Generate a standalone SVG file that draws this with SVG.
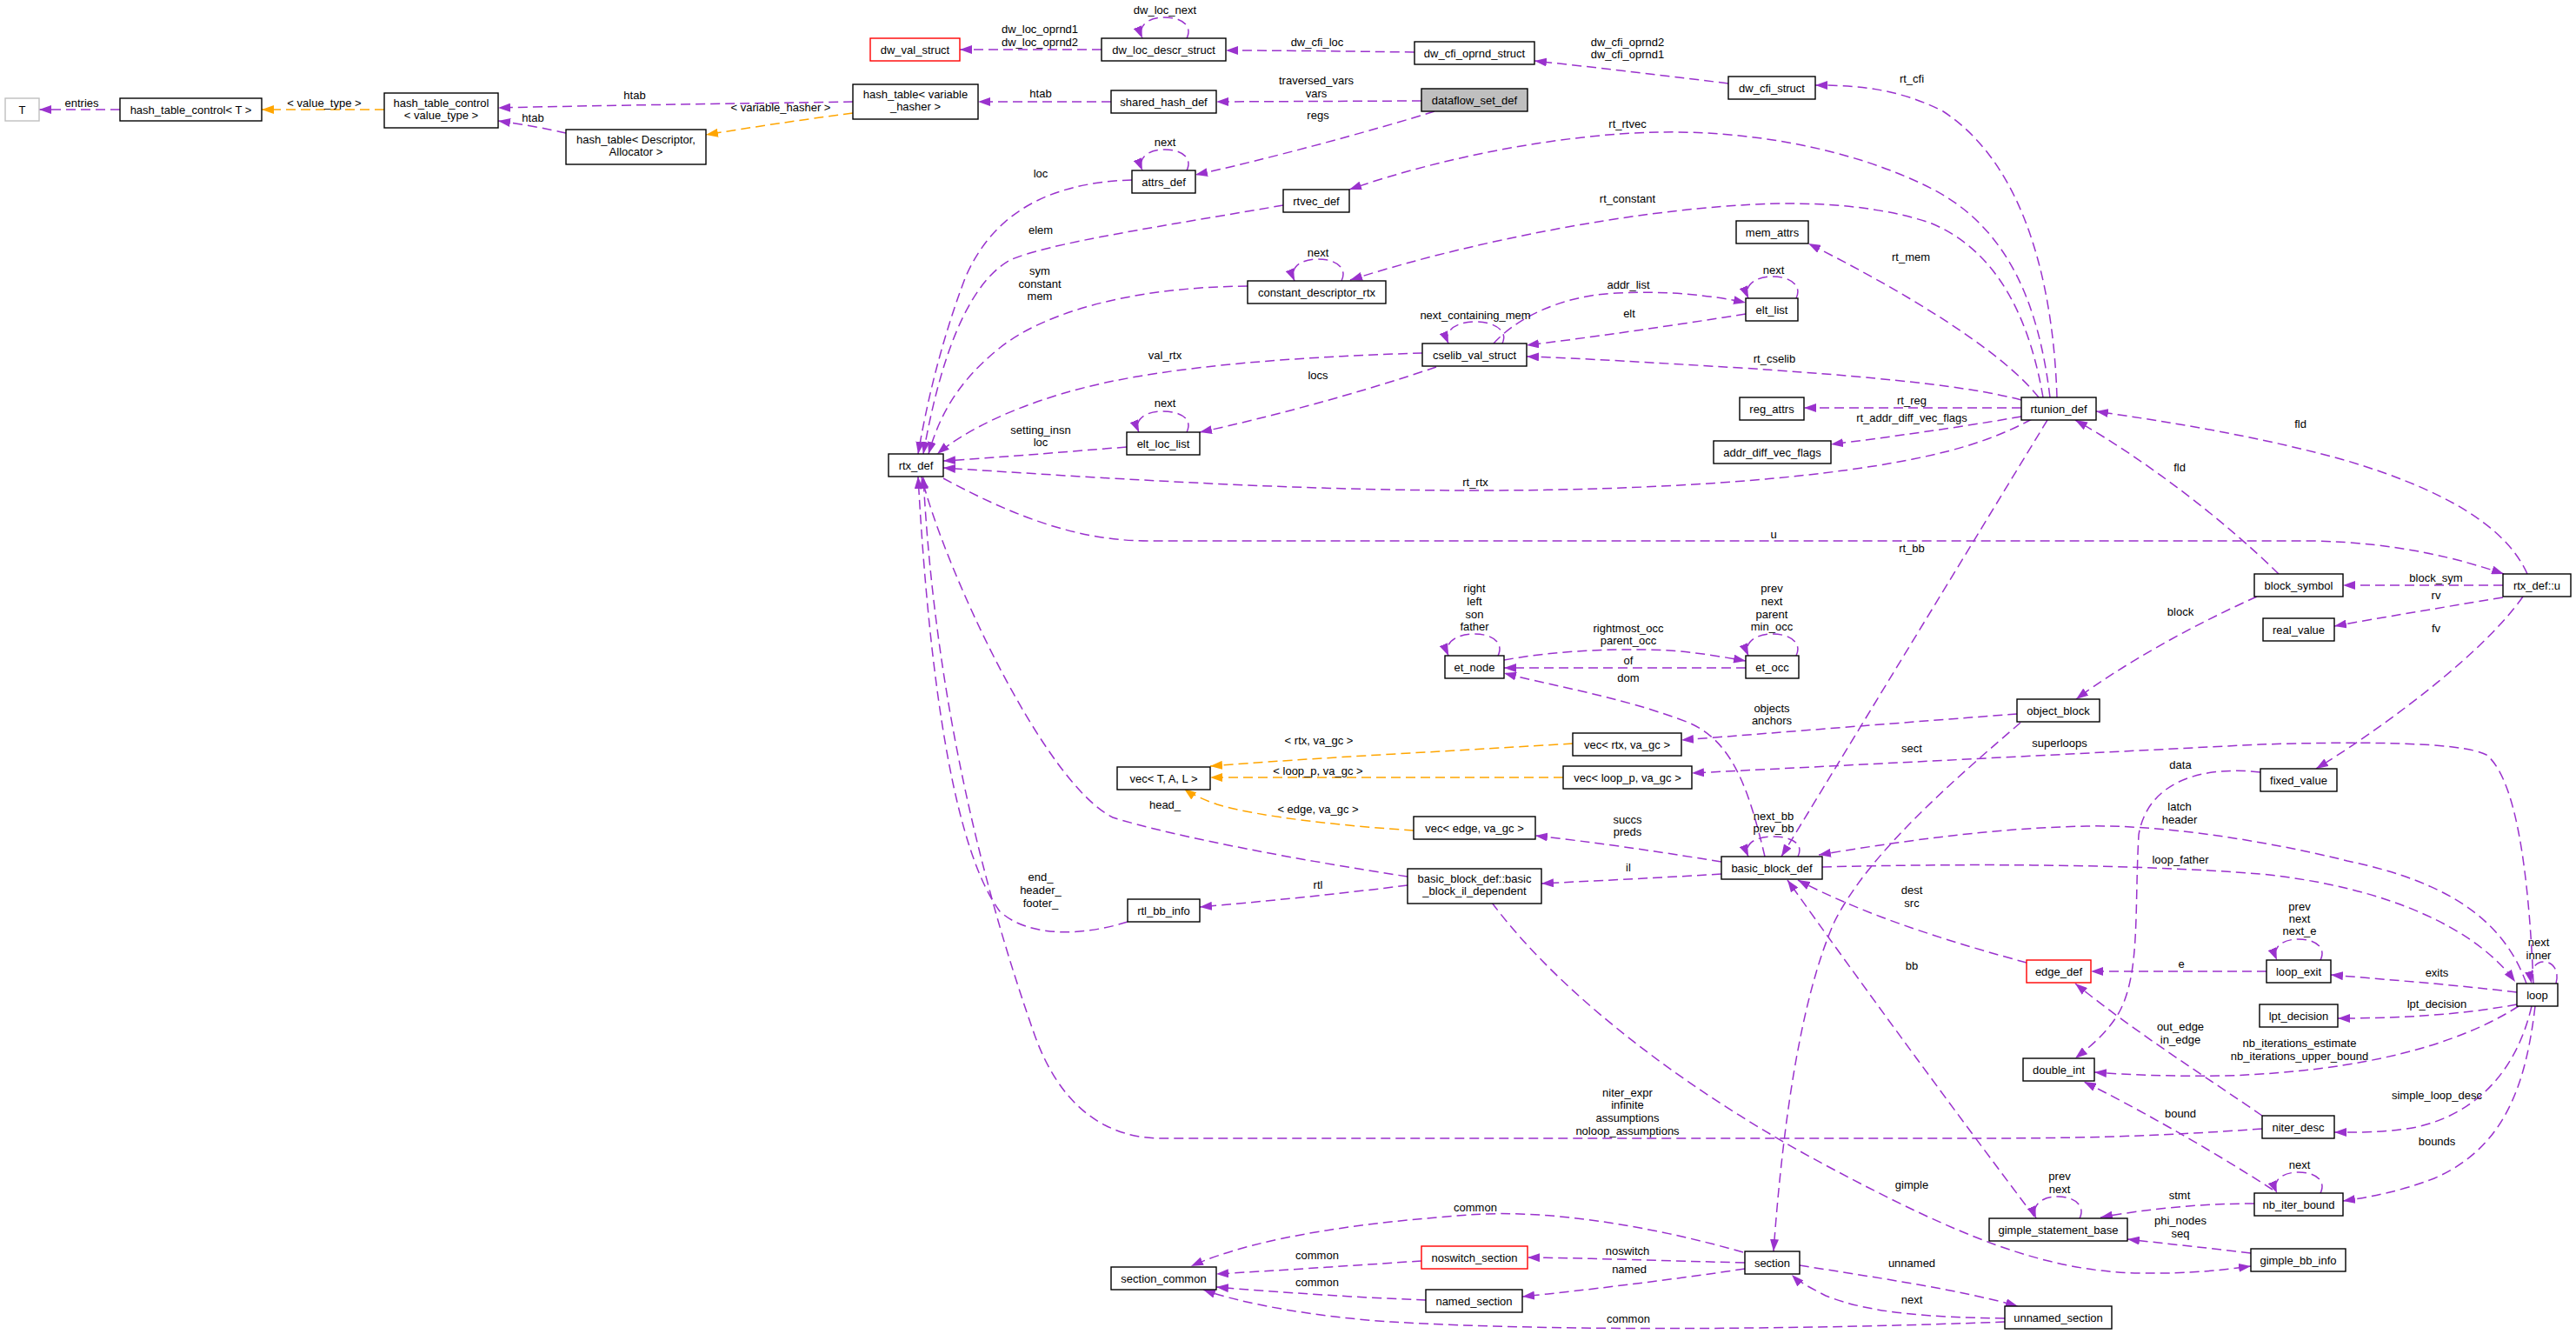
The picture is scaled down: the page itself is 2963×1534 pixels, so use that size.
<svg xmlns="http://www.w3.org/2000/svg" width="2963" height="1534" viewBox="0 0 2963 1534">
<defs>
<style>
text{font-family:"Liberation Sans",Arial,sans-serif;font-size:13px;fill:#000;text-anchor:middle}
.n rect{fill:#fff;stroke:#000;stroke-width:1.4}
.n.red rect{stroke:#ff0000}
.n.gray rect{stroke:#bfbfbf}
.n.sel rect{fill:#bfbfbf}
.e path{fill:none;stroke:#9a32cd;stroke-width:1.5;stroke-dasharray:11,6;marker-end:url(#ap)}
.e path.o{stroke:#ffa500;marker-end:url(#ao)}
</style>
<marker id="ap" viewBox="0 0 14 10" refX="14" refY="5" markerWidth="14" markerHeight="10" markerUnits="userSpaceOnUse" orient="auto"><path d="M0,0L14,5L0,10z" fill="#9a32cd"/></marker>
<marker id="ao" viewBox="0 0 14 10" refX="14" refY="5" markerWidth="14" markerHeight="10" markerUnits="userSpaceOnUse" orient="auto"><path d="M0,0L14,5L0,10z" fill="#ffa500"/></marker>
</defs>
<rect width="2963" height="1534" fill="#fff"/>
<g id="connectors" class="e">
<path d="M138,126L45,126"/>
<path class="o" d="M442,126L301,126"/>
<path d="M981,117C850,119 700,121 573,124"/>
<path d="M651,153C630,148 600,143 573,139"/>
<path class="o" d="M981,130C920,138 860,147 812,155"/>
<path d="M1278,117L1125,117"/>
<path d="M1635,116L1399,117"/>
<path d="M1650,128C1580,150 1450,185 1375,201"/>
<path d="M1365,196C1372,182 1360,172 1340,172C1320,172 1308,182 1314,196"/>
<path d="M1267,57L1104,57"/>
<path d="M1365,44C1372,30 1360,20 1340,20C1320,20 1308,30 1314,44"/>
<path d="M1627,60C1550,59 1480,58 1410,58"/>
<path d="M1988,96C1900,85 1830,77 1765,70"/>
<path d="M2366,457C2362,330 2330,190 2235,128C2180,100 2130,98 2088,98"/>
<path d="M2358,457C2345,350 2310,262 2222,217C2130,170 2010,150 1907,152C1800,154 1660,180 1552,218"/>
<path d="M2350,457C2335,370 2300,290 2222,257C2150,232 2060,232 2002,236C1880,243 1700,275 1553,322"/>
<path d="M2345,457C2300,400 2180,330 2080,280"/>
<path d="M2325,460C2280,448 2200,436 2002,423C1900,417 1820,412 1756,410"/>
<path d="M2325,469L2075,469"/>
<path d="M2325,479C2250,492 2170,503 2106,511"/>
<path d="M2337,482C2300,502 2260,516 2200,528C2080,552 1900,564 1697,564C1500,564 1300,552 1085,538"/>
<path d="M2355,483L2049,985"/>
<path d="M2621,660C2560,600 2470,530 2387,483"/>
<path d="M2907,660C2880,600 2800,560 2700,530C2600,502 2500,486 2411,473"/>
<path d="M1085,550C1150,585 1230,622 1320,622L2660,622C2760,624 2830,643 2880,660"/>
<path d="M2879,673L2695,673"/>
<path d="M2879,687C2800,700 2740,710 2685,720"/>
<path d="M2902,686C2850,760 2720,850 2664,884"/>
<path d="M2596,686C2520,720 2440,765 2388,804"/>
<path d="M2320,821C2200,830 2050,842 1934,851"/>
<path d="M2324,831C2250,895 2150,980 2110,1060C2070,1150 2050,1300 2040,1439"/>
<path d="M2914,1131C2910,1040 2900,900 2860,868C2830,852 2700,853 2600,856L1946,889"/>
<path class="o" d="M1809,855C1700,862 1500,872 1392,881"/>
<path class="o" d="M1798,894L1392,894"/>
<path class="o" d="M1626,955C1550,950 1450,940 1400,925C1385,920 1370,913 1362,907"/>
<path d="M1980,991C1900,978 1830,968 1766,961"/>
<path d="M1980,1005C1900,1010 1830,1013 1773,1016"/>
<path d="M1619,1008C1500,990 1350,962 1280,940C1200,900 1085,650 1060,548"/>
<path d="M1297,1060C1250,1075 1185,1080 1150,1048C1100,980 1070,800 1056,548"/>
<path d="M2602,1298C2450,1309 2350,1309 2250,1309L1330,1309C1260,1306 1215,1260 1190,1190C1130,1020 1075,800 1062,548"/>
<path d="M1619,1018C1540,1028 1450,1037 1380,1043"/>
<path d="M1716,1038C1800,1150 1950,1260 2100,1340C2250,1420 2350,1462 2460,1464C2520,1465 2560,1460 2589,1456"/>
<path d="M2331,1107C2250,1085 2150,1055 2068,1012"/>
<path d="M2340,1399C2250,1280 2140,1130 2056,1012"/>
<path d="M2392,1401C2399,1387 2387,1376 2367,1376C2347,1376 2336,1387 2342,1401"/>
<path d="M2593,1384C2530,1384 2470,1390 2416,1400"/>
<path d="M2589,1441C2540,1435 2490,1430 2447,1425"/>
<path d="M2669,1372C2676,1358 2664,1348 2644,1348C2624,1348 2613,1358 2619,1372"/>
<path d="M2614,1368C2540,1320 2450,1270 2397,1244"/>
<path d="M2602,1283C2540,1240 2460,1190 2387,1131"/>
<path d="M2600,888C2530,880 2470,900 2460,960C2455,1050 2462,1120 2437,1165C2422,1190 2402,1205 2387,1217"/>
<path d="M2895,1141C2820,1132 2750,1127 2681,1121"/>
<path d="M2607,1117L2405,1117"/>
<path d="M2669,1104C2676,1090 2664,1080 2644,1080C2624,1080 2613,1090 2619,1104"/>
<path d="M2895,1155C2830,1167 2760,1171 2689,1171"/>
<path d="M2897,1157C2830,1200 2720,1232 2560,1237C2500,1238 2450,1236 2409,1233"/>
<path d="M2912,1157C2895,1230 2850,1280 2780,1296C2740,1303 2710,1302 2685,1302"/>
<path d="M2916,1157C2905,1250 2880,1320 2800,1355C2760,1370 2730,1376 2695,1381"/>
<path d="M2940,1131C2944,1117 2937,1106 2926,1106C2915,1106 2909,1117 2912,1131"/>
<path d="M2096,997C2250,993 2450,993 2600,1005C2750,1020 2850,1070 2893,1129"/>
<path d="M2906,1131C2880,1060 2820,1015 2700,990C2600,965 2480,948 2400,950C2300,952 2200,965 2092,983"/>
<path d="M2007,1452C1920,1450 1840,1447 1757,1446"/>
<path d="M2007,1459C1920,1472 1820,1484 1751,1491"/>
<path d="M2005,1440C1900,1410 1780,1390 1690,1397C1580,1405 1450,1420 1370,1456"/>
<path d="M1635,1450C1560,1455 1470,1461 1399,1465"/>
<path d="M1640,1495C1560,1492 1470,1486 1399,1480"/>
<path d="M2306,1520C2100,1528 1800,1532 1600,1520C1520,1515 1430,1500 1384,1483"/>
<path d="M2070,1455C2150,1468 2250,1482 2321,1502"/>
<path d="M2306,1516C2220,1515 2150,1510 2100,1490C2085,1482 2070,1475 2061,1466"/>
<path d="M1302,207C1200,210 1140,250 1110,320C1080,400 1065,470 1056,522"/>
<path d="M1476,236C1350,258 1200,280 1160,300C1110,330 1080,420 1062,522"/>
<path d="M1435,329C1300,330 1200,360 1150,400C1100,440 1080,480 1068,522"/>
<path d="M1543,323C1550,309 1538,298 1516,298C1494,298 1483,309 1489,323"/>
<path d="M1636,406C1500,410 1350,420 1250,445C1170,465 1110,495 1078,522"/>
<path d="M1652,422C1570,450 1460,480 1380,497"/>
<path d="M1296,514C1220,520 1150,526 1085,530"/>
<path d="M1365,497C1372,483 1360,473 1338,473C1316,473 1304,483 1310,497"/>
<path d="M1728,395C1735,381 1720,370 1697,370C1674,370 1660,381 1666,395"/>
<path d="M1718,395C1740,370 1790,340 1860,337C1920,334 1970,340 2008,348"/>
<path d="M2008,361C1920,375 1830,388 1756,397"/>
<path d="M2066,343C2073,329 2060,318 2039,318C2018,318 2005,329 2011,343"/>
<path d="M1723,754C1730,740 1718,729 1696,729C1674,729 1660,740 1666,754"/>
<path d="M1730,759C1790,748 1860,745 1920,748C1950,750 1980,755 2008,760"/>
<path d="M2008,768L1730,768"/>
<path d="M2066,754C2073,740 2060,729 2039,729C2018,729 2005,740 2011,754"/>
<path d="M2030,985C2010,900 1990,850 1940,830C1860,800 1790,790 1730,774"/>
<path d="M2068,985C2075,971 2062,962 2040,962C2018,962 2005,971 2011,985"/>
</g>
<g id="edge-labels">
<text x="94" y="123">entries</text>
<text x="373" y="123">&lt; value_type &gt;</text>
<text x="730" y="114">htab</text>
<text x="613" y="140">htab</text>
<text x="898" y="128">&lt; variable_hasher &gt;</text>
<text x="1197" y="112">htab</text>
<text x="1514" y="97">traversed_vars</text>
<text x="1514" y="112">vars</text>
<text x="1516" y="137">regs</text>
<text x="1340" y="168">next</text>
<text x="1196" y="38">dw_loc_oprnd1</text>
<text x="1196" y="53">dw_loc_oprnd2</text>
<text x="1340" y="16">dw_loc_next</text>
<text x="1515" y="53">dw_cfi_loc</text>
<text x="1872" y="53">dw_cfi_oprnd2</text>
<text x="1872" y="67">dw_cfi_oprnd1</text>
<text x="2199" y="95">rt_cfi</text>
<text x="1872" y="147">rt_rtvec</text>
<text x="1872" y="233">rt_constant</text>
<text x="2198" y="300">rt_mem</text>
<text x="2041" y="417">rt_cselib</text>
<text x="2199" y="465">rt_reg</text>
<text x="2199" y="485">rt_addr_diff_vec_flags</text>
<text x="1697" y="559">rt_rtx</text>
<text x="2199" y="635">rt_bb</text>
<text x="2507" y="542">fld</text>
<text x="2646" y="492">fld</text>
<text x="2040" y="619">u</text>
<text x="2802" y="669">block_sym</text>
<text x="2802" y="689">rv</text>
<text x="2802" y="727">fv</text>
<text x="2508" y="708">block</text>
<text x="2038" y="819">objects</text>
<text x="2038" y="833">anchors</text>
<text x="2199" y="865">sect</text>
<text x="2369" y="859">superloops</text>
<text x="1517" y="856">&lt; rtx, va_gc &gt;</text>
<text x="1516" y="891">&lt; loop_p, va_gc &gt;</text>
<text x="1516" y="935">&lt; edge, va_gc &gt;</text>
<text x="1872" y="947">succs</text>
<text x="1872" y="961">preds</text>
<text x="1873" y="1002">il</text>
<text x="1340" y="930">head_</text>
<text x="1197" y="1013">end_</text>
<text x="1197" y="1028">header_</text>
<text x="1197" y="1043">footer_</text>
<text x="1872" y="1261">niter_expr</text>
<text x="1872" y="1275">infinite</text>
<text x="1872" y="1290">assumptions</text>
<text x="1872" y="1305">noloop_assumptions</text>
<text x="1516" y="1022">rtl</text>
<text x="2199" y="1367">gimple</text>
<text x="2199" y="1028">dest</text>
<text x="2199" y="1043">src</text>
<text x="2199" y="1115">bb</text>
<text x="2369" y="1357">prev</text>
<text x="2369" y="1372">next</text>
<text x="2507" y="1379">stmt</text>
<text x="2508" y="1408">phi_nodes</text>
<text x="2508" y="1423">seq</text>
<text x="2645" y="1344">next</text>
<text x="2508" y="1285">bound</text>
<text x="2508" y="1185">out_edge</text>
<text x="2508" y="1200">in_edge</text>
<text x="2508" y="884">data</text>
<text x="2803" y="1123">exits</text>
<text x="2509" y="1113">e</text>
<text x="2645" y="1047">prev</text>
<text x="2645" y="1061">next</text>
<text x="2645" y="1075">next_e</text>
<text x="2803" y="1159">lpt_decision</text>
<text x="2645" y="1204">nb_iterations_estimate</text>
<text x="2645" y="1219">nb_iterations_upper_bound</text>
<text x="2803" y="1264">simple_loop_desc</text>
<text x="2803" y="1317">bounds</text>
<text x="2920" y="1088">next</text>
<text x="2920" y="1103">inner</text>
<text x="2508" y="993">loop_father</text>
<text x="2507" y="932">latch</text>
<text x="2507" y="947">header</text>
<text x="1872" y="1443">noswitch</text>
<text x="1874" y="1464">named</text>
<text x="1697" y="1393">common</text>
<text x="1515" y="1448">common</text>
<text x="1515" y="1479">common</text>
<text x="1873" y="1521">common</text>
<text x="2199" y="1457">unnamed</text>
<text x="2199" y="1499">next</text>
<text x="1197" y="204">loc</text>
<text x="1197" y="269">elem</text>
<text x="1196" y="316">sym</text>
<text x="1196" y="331">constant</text>
<text x="1196" y="345">mem</text>
<text x="1516" y="295">next</text>
<text x="1340" y="413">val_rtx</text>
<text x="1516" y="436">locs</text>
<text x="1197" y="499">setting_insn</text>
<text x="1197" y="513">loc</text>
<text x="1340" y="468">next</text>
<text x="1697" y="367">next_containing_mem</text>
<text x="1873" y="332">addr_list</text>
<text x="1874" y="365">elt</text>
<text x="2040" y="315">next</text>
<text x="1696" y="681">right</text>
<text x="1696" y="696">left</text>
<text x="1696" y="711">son</text>
<text x="1696" y="725">father</text>
<text x="1873" y="727">rightmost_occ</text>
<text x="1873" y="741">parent_occ</text>
<text x="1873" y="764">of</text>
<text x="2038" y="681">prev</text>
<text x="2038" y="696">next</text>
<text x="2038" y="711">parent</text>
<text x="2038" y="725">min_occ</text>
<text x="1873" y="784">dom</text>
<text x="2040" y="943">next_bb</text>
<text x="2040" y="957">prev_bb</text>
</g>
<g id="n_T" class="n gray"><rect x="6" y="113" width="39" height="26"/><text x="25.5" y="130.5">T</text></g>
<g id="n_htc_T" class="n"><rect x="138" y="113" width="163" height="26"/><text x="219.5" y="130.5">hash_table_control&lt; T &gt;</text></g>
<g id="n_htc_vt" class="n"><rect x="442" y="107" width="131" height="40"/><text x="507.5" y="123">hash_table_control</text><text x="507.5" y="137">&lt; value_type &gt;</text></g>
<g id="n_ht_vh" class="n"><rect x="981" y="97" width="144" height="40"/><text x="1053" y="113">hash_table&lt; variable</text><text x="1053" y="127">_hasher &gt;</text></g>
<g id="n_ht_da" class="n"><rect x="651" y="149" width="161" height="40"/><text x="731.5" y="165">hash_table&lt; Descriptor,</text><text x="731.5" y="179">Allocator &gt;</text></g>
<g id="n_dw_val_struct" class="n red"><rect x="1001" y="44" width="103" height="26"/><text x="1052.5" y="61.5">dw_val_struct</text></g>
<g id="n_dw_loc_descr_struct" class="n"><rect x="1267" y="44" width="143" height="26"/><text x="1338.5" y="61.5">dw_loc_descr_struct</text></g>
<g id="n_shared_hash_def" class="n"><rect x="1278" y="104" width="121" height="26"/><text x="1338.5" y="121.5">shared_hash_def</text></g>
<g id="n_dataflow_set_def" class="n sel"><rect x="1635" y="102" width="122" height="26"/><text x="1696" y="119.5">dataflow_set_def</text></g>
<g id="n_dw_cfi_oprnd_struct" class="n"><rect x="1627" y="48" width="138" height="26"/><text x="1696" y="65.5">dw_cfi_oprnd_struct</text></g>
<g id="n_dw_cfi_struct" class="n"><rect x="1988" y="88" width="100" height="26"/><text x="2038" y="105.5">dw_cfi_struct</text></g>
<g id="n_attrs_def" class="n"><rect x="1302" y="196" width="73" height="26"/><text x="1338.5" y="213.5">attrs_def</text></g>
<g id="n_rtvec_def" class="n"><rect x="1476" y="218" width="76" height="26"/><text x="1514" y="235.5">rtvec_def</text></g>
<g id="n_constant_descriptor_rtx" class="n"><rect x="1435" y="323" width="159" height="26"/><text x="1514.5" y="340.5">constant_descriptor_rtx</text></g>
<g id="n_mem_attrs" class="n"><rect x="1997" y="254" width="83" height="26"/><text x="2038.5" y="271.5">mem_attrs</text></g>
<g id="n_elt_list" class="n"><rect x="2008" y="343" width="60" height="26"/><text x="2038" y="360.5">elt_list</text></g>
<g id="n_cselib_val_struct" class="n"><rect x="1636" y="395" width="120" height="26"/><text x="1696" y="412.5">cselib_val_struct</text></g>
<g id="n_reg_attrs" class="n"><rect x="2001" y="457" width="74" height="26"/><text x="2038" y="474.5">reg_attrs</text></g>
<g id="n_rtunion_def" class="n"><rect x="2325" y="457" width="86" height="26"/><text x="2368" y="474.5">rtunion_def</text></g>
<g id="n_addr_diff_vec_flags" class="n"><rect x="1971" y="507" width="135" height="26"/><text x="2038.5" y="524.5">addr_diff_vec_flags</text></g>
<g id="n_elt_loc_list" class="n"><rect x="1296" y="497" width="84" height="26"/><text x="1338" y="514.5">elt_loc_list</text></g>
<g id="n_rtx_def" class="n"><rect x="1022" y="522" width="63" height="26"/><text x="1053.5" y="539.5">rtx_def</text></g>
<g id="n_block_symbol" class="n"><rect x="2593" y="660" width="102" height="26"/><text x="2644" y="677.5">block_symbol</text></g>
<g id="n_rtx_def_u" class="n"><rect x="2879" y="660" width="78" height="26"/><text x="2918" y="677.5">rtx_def::u</text></g>
<g id="n_real_value" class="n"><rect x="2603" y="711" width="82" height="26"/><text x="2644" y="728.5">real_value</text></g>
<g id="n_et_node" class="n"><rect x="1662" y="754" width="68" height="26"/><text x="1696" y="771.5">et_node</text></g>
<g id="n_et_occ" class="n"><rect x="2008" y="754" width="61" height="26"/><text x="2038.5" y="771.5">et_occ</text></g>
<g id="n_object_block" class="n"><rect x="2320" y="804" width="95" height="26"/><text x="2367.5" y="821.5">object_block</text></g>
<g id="n_vec_rtx" class="n"><rect x="1809" y="843" width="125" height="26"/><text x="1871.5" y="860.5">vec&lt; rtx, va_gc &gt;</text></g>
<g id="n_vec_loop_p" class="n"><rect x="1798" y="881" width="148" height="26"/><text x="1872" y="898.5">vec&lt; loop_p, va_gc &gt;</text></g>
<g id="n_vec_TAL" class="n"><rect x="1285" y="882" width="107" height="26"/><text x="1338.5" y="899.5">vec&lt; T, A, L &gt;</text></g>
<g id="n_fixed_value" class="n"><rect x="2600" y="884" width="88" height="26"/><text x="2644" y="901.5">fixed_value</text></g>
<g id="n_vec_edge" class="n"><rect x="1626" y="939" width="140" height="26"/><text x="1696" y="956.5">vec&lt; edge, va_gc &gt;</text></g>
<g id="n_basic_block_def" class="n"><rect x="1980" y="985" width="116" height="26"/><text x="2038" y="1002.5">basic_block_def</text></g>
<g id="n_bb_il_dependent" class="n"><rect x="1619" y="999" width="154" height="40"/><text x="1696" y="1015">basic_block_def::basic</text><text x="1696" y="1029">_block_il_dependent</text></g>
<g id="n_rtl_bb_info" class="n"><rect x="1297" y="1034" width="83" height="26"/><text x="1338.5" y="1051.5">rtl_bb_info</text></g>
<g id="n_edge_def" class="n red"><rect x="2331" y="1104" width="74" height="26"/><text x="2368" y="1121.5">edge_def</text></g>
<g id="n_loop_exit" class="n"><rect x="2607" y="1104" width="74" height="26"/><text x="2644" y="1121.5">loop_exit</text></g>
<g id="n_loop" class="n"><rect x="2895" y="1131" width="47" height="26"/><text x="2918.5" y="1148.5">loop</text></g>
<g id="n_lpt_decision" class="n"><rect x="2599" y="1155" width="90" height="26"/><text x="2644" y="1172.5">lpt_decision</text></g>
<g id="n_double_int" class="n"><rect x="2327" y="1217" width="82" height="26"/><text x="2368" y="1234.5">double_int</text></g>
<g id="n_niter_desc" class="n"><rect x="2602" y="1283" width="83" height="26"/><text x="2643.5" y="1300.5">niter_desc</text></g>
<g id="n_nb_iter_bound" class="n"><rect x="2593" y="1372" width="102" height="26"/><text x="2644" y="1389.5">nb_iter_bound</text></g>
<g id="n_gimple_statement_base" class="n"><rect x="2288" y="1401" width="159" height="26"/><text x="2367.5" y="1418.5">gimple_statement_base</text></g>
<g id="n_noswitch_section" class="n red"><rect x="1635" y="1433" width="122" height="26"/><text x="1696" y="1450.5">noswitch_section</text></g>
<g id="n_section" class="n"><rect x="2007" y="1439" width="63" height="26"/><text x="2038.5" y="1456.5">section</text></g>
<g id="n_section_common" class="n"><rect x="1278" y="1457" width="121" height="26"/><text x="1338.5" y="1474.5">section_common</text></g>
<g id="n_gimple_bb_info" class="n"><rect x="2589" y="1436" width="109" height="26"/><text x="2643.5" y="1453.5">gimple_bb_info</text></g>
<g id="n_named_section" class="n"><rect x="1640" y="1483" width="111" height="26"/><text x="1695.5" y="1500.5">named_section</text></g>
<g id="n_unnamed_section" class="n"><rect x="2306" y="1502" width="123" height="26"/><text x="2367.5" y="1519.5">unnamed_section</text></g>
</svg>
